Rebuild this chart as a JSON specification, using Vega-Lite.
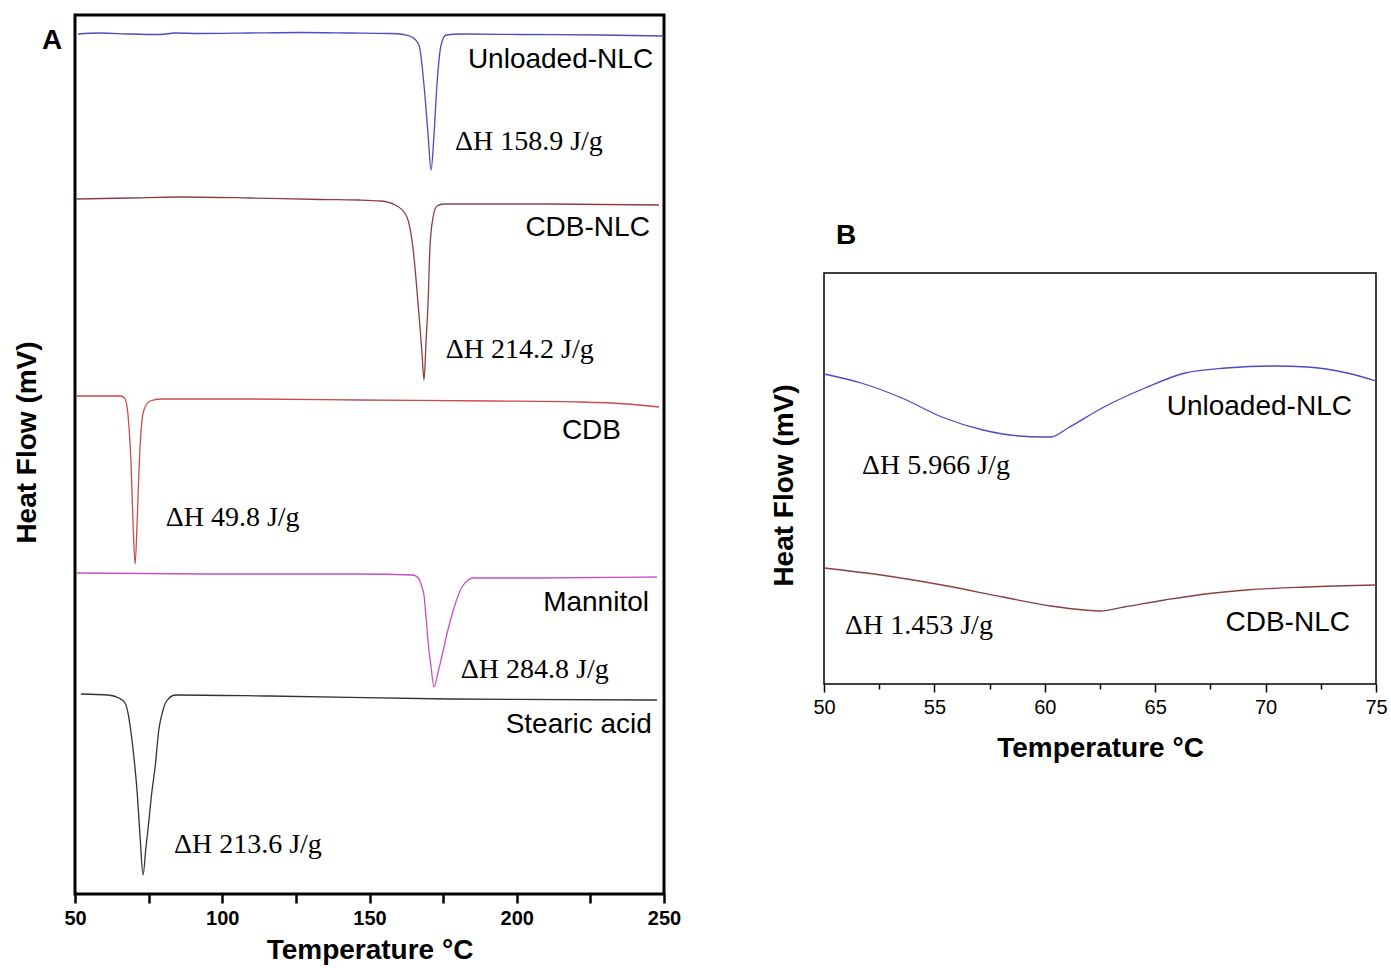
{
  "$schema": "https://vega.github.io/schema/vega-lite/v6.json",
  "background": "white",
  "padding": {"left": 11, "top": 13, "right": 0, "bottom": 0},
  "config": {"font": "Liberation Sans", "view": {"stroke": "black"}},
  "datasets": {
    "curvesA": [
      {"series": "Unloaded-NLC", "T": 51.0, "HF": 8.60},
      {"series": "Unloaded-NLC", "T": 58.5, "HF": 8.61},
      {"series": "Unloaded-NLC", "T": 68.7, "HF": 8.60},
      {"series": "Unloaded-NLC", "T": 78.9, "HF": 8.595},
      {"series": "Unloaded-NLC", "T": 84.0, "HF": 8.61},
      {"series": "Unloaded-NLC", "T": 92.4, "HF": 8.605},
      {"series": "Unloaded-NLC", "T": 109.4, "HF": 8.61},
      {"series": "Unloaded-NLC", "T": 126.4, "HF": 8.615},
      {"series": "Unloaded-NLC", "T": 143.4, "HF": 8.61},
      {"series": "Unloaded-NLC", "T": 157.0, "HF": 8.605},
      {"series": "Unloaded-NLC", "T": 161.4, "HF": 8.595},
      {"series": "Unloaded-NLC", "T": 164.4, "HF": 8.57},
      {"series": "Unloaded-NLC", "T": 166.8, "HF": 8.49},
      {"series": "Unloaded-NLC", "T": 168.5, "HF": 8.09},
      {"series": "Unloaded-NLC", "T": 169.9, "HF": 7.59},
      {"series": "Unloaded-NLC", "T": 170.9, "HF": 7.24},
      {"series": "Unloaded-NLC", "T": 171.9, "HF": 7.59},
      {"series": "Unloaded-NLC", "T": 172.9, "HF": 8.09},
      {"series": "Unloaded-NLC", "T": 174.3, "HF": 8.49},
      {"series": "Unloaded-NLC", "T": 176.0, "HF": 8.59},
      {"series": "Unloaded-NLC", "T": 180.7, "HF": 8.60},
      {"series": "Unloaded-NLC", "T": 201.1, "HF": 8.595},
      {"series": "Unloaded-NLC", "T": 228.3, "HF": 8.59},
      {"series": "Unloaded-NLC", "T": 249.8, "HF": 8.58},

      {"series": "CDB-NLC", "T": 50.5, "HF": 6.95},
      {"series": "CDB-NLC", "T": 68.7, "HF": 6.96},
      {"series": "CDB-NLC", "T": 85.3, "HF": 6.97},
      {"series": "CDB-NLC", "T": 109.4, "HF": 6.96},
      {"series": "CDB-NLC", "T": 133.2, "HF": 6.945},
      {"series": "CDB-NLC", "T": 146.4, "HF": 6.94},
      {"series": "CDB-NLC", "T": 153.9, "HF": 6.93},
      {"series": "CDB-NLC", "T": 158.7, "HF": 6.89},
      {"series": "CDB-NLC", "T": 162.4, "HF": 6.79},
      {"series": "CDB-NLC", "T": 164.8, "HF": 6.45},
      {"series": "CDB-NLC", "T": 166.8, "HF": 5.79},
      {"series": "CDB-NLC", "T": 167.8, "HF": 5.42},
      {"series": "CDB-NLC", "T": 168.5, "HF": 5.14},
      {"series": "CDB-NLC", "T": 169.2, "HF": 5.52},
      {"series": "CDB-NLC", "T": 169.9, "HF": 5.92},
      {"series": "CDB-NLC", "T": 170.5, "HF": 6.45},
      {"series": "CDB-NLC", "T": 171.6, "HF": 6.77},
      {"series": "CDB-NLC", "T": 172.9, "HF": 6.88},
      {"series": "CDB-NLC", "T": 175.3, "HF": 6.90},
      {"series": "CDB-NLC", "T": 207.2, "HF": 6.90},
      {"series": "CDB-NLC", "T": 248.3, "HF": 6.89},

      {"series": "CDB", "T": 50.5, "HF": 4.98},
      {"series": "CDB", "T": 65.6, "HF": 4.98},
      {"series": "CDB", "T": 67.0, "HF": 4.95},
      {"series": "CDB", "T": 68.0, "HF": 4.79},
      {"series": "CDB", "T": 69.0, "HF": 4.32},
      {"series": "CDB", "T": 69.7, "HF": 3.72},
      {"series": "CDB", "T": 70.4, "HF": 3.30},
      {"series": "CDB", "T": 71.1, "HF": 3.72},
      {"series": "CDB", "T": 71.7, "HF": 4.22},
      {"series": "CDB", "T": 72.4, "HF": 4.62},
      {"series": "CDB", "T": 73.4, "HF": 4.84},
      {"series": "CDB", "T": 75.5, "HF": 4.93},
      {"series": "CDB", "T": 79.2, "HF": 4.95},
      {"series": "CDB", "T": 109.4, "HF": 4.95},
      {"series": "CDB", "T": 146.4, "HF": 4.94},
      {"series": "CDB", "T": 191.9, "HF": 4.93},
      {"series": "CDB", "T": 221.5, "HF": 4.92},
      {"series": "CDB", "T": 237.8, "HF": 4.90},
      {"series": "CDB", "T": 248.3, "HF": 4.87},

      {"series": "Mannitol", "T": 50.5, "HF": 3.21},
      {"series": "Mannitol", "T": 100.6, "HF": 3.20},
      {"series": "Mannitol", "T": 146.4, "HF": 3.20},
      {"series": "Mannitol", "T": 164.8, "HF": 3.19},
      {"series": "Mannitol", "T": 166.8, "HF": 3.15},
      {"series": "Mannitol", "T": 167.8, "HF": 3.07},
      {"series": "Mannitol", "T": 168.5, "HF": 2.99},
      {"series": "Mannitol", "T": 169.2, "HF": 2.77},
      {"series": "Mannitol", "T": 169.9, "HF": 2.52},
      {"series": "Mannitol", "T": 170.9, "HF": 2.27},
      {"series": "Mannitol", "T": 171.9, "HF": 2.07},
      {"series": "Mannitol", "T": 173.3, "HF": 2.22},
      {"series": "Mannitol", "T": 174.6, "HF": 2.38},
      {"series": "Mannitol", "T": 176.7, "HF": 2.65},
      {"series": "Mannitol", "T": 179.0, "HF": 2.89},
      {"series": "Mannitol", "T": 181.4, "HF": 3.07},
      {"series": "Mannitol", "T": 183.1, "HF": 3.13},
      {"series": "Mannitol", "T": 185.1, "HF": 3.16},
      {"series": "Mannitol", "T": 207.2, "HF": 3.16},
      {"series": "Mannitol", "T": 247.6, "HF": 3.17},

      {"series": "Stearic acid", "T": 52.0, "HF": 2.00},
      {"series": "Stearic acid", "T": 61.2, "HF": 1.99},
      {"series": "Stearic acid", "T": 64.9, "HF": 1.96},
      {"series": "Stearic acid", "T": 67.0, "HF": 1.91},
      {"series": "Stearic acid", "T": 68.0, "HF": 1.81},
      {"series": "Stearic acid", "T": 69.0, "HF": 1.62},
      {"series": "Stearic acid", "T": 70.0, "HF": 1.37},
      {"series": "Stearic acid", "T": 71.1, "HF": 1.02},
      {"series": "Stearic acid", "T": 72.1, "HF": 0.57},
      {"series": "Stearic acid", "T": 73.1, "HF": 0.19},
      {"series": "Stearic acid", "T": 74.1, "HF": 0.47},
      {"series": "Stearic acid", "T": 74.8, "HF": 0.65},
      {"series": "Stearic acid", "T": 76.1, "HF": 1.02},
      {"series": "Stearic acid", "T": 77.2, "HF": 1.27},
      {"series": "Stearic acid", "T": 78.5, "HF": 1.65},
      {"series": "Stearic acid", "T": 79.9, "HF": 1.84},
      {"series": "Stearic acid", "T": 80.9, "HF": 1.92},
      {"series": "Stearic acid", "T": 84.0, "HF": 1.99},
      {"series": "Stearic acid", "T": 115.9, "HF": 1.98},
      {"series": "Stearic acid", "T": 176.7, "HF": 1.95},
      {"series": "Stearic acid", "T": 247.6, "HF": 1.94}
    ],
    "namesA": [
      {"label": "Unloaded-NLC", "T": 246.3, "HF": 8.34},
      {"label": "CDB-NLC", "T": 245.2, "HF": 6.66},
      {"label": "CDB", "T": 235.4, "HF": 4.63},
      {"label": "Mannitol", "T": 244.9, "HF": 2.91},
      {"label": "Stearic acid", "T": 245.9, "HF": 1.69}
    ],
    "enthalpyA": [
      {"label": "ΔH 158.9 J/g", "T": 179.0, "HF": 7.52},
      {"label": "ΔH 214.2 J/g", "T": 175.9, "HF": 5.44},
      {"label": "ΔH 49.8 J/g", "T": 80.8, "HF": 3.76},
      {"label": "ΔH 284.8 J/g", "T": 181.0, "HF": 2.24},
      {"label": "ΔH 213.6 J/g", "T": 83.6, "HF": 0.49}
    ],
    "curvesB": [
      {"series": "Unloaded-NLC", "T": 50.0, "HF": 3.10},
      {"series": "Unloaded-NLC", "T": 51.68, "HF": 3.01},
      {"series": "Unloaded-NLC", "T": 53.53, "HF": 2.86},
      {"series": "Unloaded-NLC", "T": 55.34, "HF": 2.67},
      {"series": "Unloaded-NLC", "T": 57.20, "HF": 2.54},
      {"series": "Unloaded-NLC", "T": 58.83, "HF": 2.48},
      {"series": "Unloaded-NLC", "T": 59.92, "HF": 2.47},
      {"series": "Unloaded-NLC", "T": 60.28, "HF": 2.47},
      {"series": "Unloaded-NLC", "T": 61.05, "HF": 2.56},
      {"series": "Unloaded-NLC", "T": 62.68, "HF": 2.77},
      {"series": "Unloaded-NLC", "T": 64.54, "HF": 2.96},
      {"series": "Unloaded-NLC", "T": 66.35, "HF": 3.11},
      {"series": "Unloaded-NLC", "T": 68.21, "HF": 3.16},
      {"series": "Unloaded-NLC", "T": 70.38, "HF": 3.18},
      {"series": "Unloaded-NLC", "T": 71.88, "HF": 3.17},
      {"series": "Unloaded-NLC", "T": 73.69, "HF": 3.11},
      {"series": "Unloaded-NLC", "T": 75.0, "HF": 3.03},
      {"series": "CDB-NLC", "T": 50.0, "HF": 1.16},
      {"series": "CDB-NLC", "T": 52.58, "HF": 1.09},
      {"series": "CDB-NLC", "T": 55.34, "HF": 0.99},
      {"series": "CDB-NLC", "T": 58.11, "HF": 0.87},
      {"series": "CDB-NLC", "T": 60.28, "HF": 0.78},
      {"series": "CDB-NLC", "T": 61.78, "HF": 0.74},
      {"series": "CDB-NLC", "T": 62.50, "HF": 0.73},
      {"series": "CDB-NLC", "T": 63.59, "HF": 0.77},
      {"series": "CDB-NLC", "T": 65.44, "HF": 0.84},
      {"series": "CDB-NLC", "T": 67.26, "HF": 0.90},
      {"series": "CDB-NLC", "T": 69.11, "HF": 0.94},
      {"series": "CDB-NLC", "T": 71.88, "HF": 0.97},
      {"series": "CDB-NLC", "T": 75.0, "HF": 0.99}
    ],
    "namesB": [
      {"label": "Unloaded-NLC", "T": 73.91, "HF": 2.77},
      {"label": "CDB-NLC", "T": 73.82, "HF": 0.61}
    ],
    "enthalpyB": [
      {"label": "ΔH 5.966 J/g", "T": 51.72, "HF": 2.18},
      {"label": "ΔH 1.453 J/g", "T": 50.95, "HF": 0.58}
    ]
  },
  "resolve": {"scale": {"x": "independent", "y": "independent", "color": "independent"}},
  "spacing": 86,
  "hconcat": [
    {
      "width": 589,
      "height": 879,
      "view": {"stroke": "black", "strokeWidth": 3},
      "title": {"text": "A", "anchor": "start", "frame": "group", "orient": "top", "offset": -40, "dx": -33, "fontSize": 28, "fontWeight": "bold", "font": "Liberation Sans", "color": "black"},
      "layer": [
        {
          "data": {"name": "curvesA"},
          "mark": {"type": "line", "strokeWidth": 1.3, "interpolate": "monotone"},
          "encoding": {
            "x": {"field": "T", "type": "quantitative",
              "scale": {"domain": [50, 250], "nice": false, "zero": false},
              "axis": {"title": "Temperature °C", "values": [50, 75, 100, 125, 150, 175, 200, 225, 250],
                "labelExpr": "datum.value % 50 === 0 ? datum.label : ''",
                "labelFlush": false, "labelOverlap": false, "grid": false, "domain": false,
                "labelFont": "Liberation Sans", "labelFontWeight": "bold", "labelFontSize": 20, "labelColor": "black", "labelPadding": 5,
                "tickColor": "black", "tickWidth": 2.5, "tickSize": 9,
                "titleFont": "Liberation Sans", "titleFontSize": 28, "titleFontWeight": "bold", "titleColor": "black", "titlePadding": 8}},
            "y": {"field": "HF", "type": "quantitative",
              "scale": {"domain": [0, 8.79], "nice": false, "zero": false},
              "axis": {"title": "Heat Flow (mV)", "labels": false, "ticks": false, "domain": false, "grid": false, "titleY": 427,
                "titleFont": "Liberation Sans", "titleFontSize": 28, "titleFontWeight": "bold", "titleColor": "black", "titlePadding": 34}},
            "color": {"field": "series", "type": "nominal", "legend": null,
              "scale": {"domain": ["Unloaded-NLC", "CDB-NLC", "CDB", "Mannitol", "Stearic acid"],
                "range": ["#4b4bc3", "#8b4040", "#cc4a4a", "#c64fc6", "#333333"]}}
          }
        },
        {
          "data": {"name": "namesA"},
          "mark": {"type": "text", "align": "right", "baseline": "middle", "font": "Liberation Sans", "fontSize": 28, "color": "black"},
          "encoding": {
            "x": {"field": "T", "type": "quantitative"},
            "y": {"field": "HF", "type": "quantitative"},
            "text": {"field": "label"}
          }
        },
        {
          "data": {"name": "enthalpyA"},
          "mark": {"type": "text", "align": "left", "baseline": "middle", "font": "Liberation Serif", "fontSize": 28, "color": "black"},
          "encoding": {
            "x": {"field": "T", "type": "quantitative"},
            "y": {"field": "HF", "type": "quantitative"},
            "text": {"field": "label"}
          }
        }
      ]
    },
    {
      "spacing": 0,
      "vconcat": [
        {
          "width": 552,
          "height": 206,
          "view": {"stroke": null},
          "data": {"values": [{}]},
          "mark": {"type": "text", "text": ""}
        },
        {
          "width": 552,
          "height": 411,
          "view": {"stroke": "black", "strokeWidth": 1.5},
          "title": {"text": "B", "anchor": "start", "frame": "group", "orient": "top", "offset": 23, "dx": 12, "fontSize": 28, "fontWeight": "bold", "font": "Liberation Sans", "color": "black"},
          "layer": [
            {
              "data": {"name": "curvesB"},
              "mark": {"type": "line", "strokeWidth": 1.3, "interpolate": "monotone"},
              "encoding": {
                "x": {"field": "T", "type": "quantitative",
                  "scale": {"domain": [50, 75], "nice": false, "zero": false},
                  "axis": {"title": "Temperature °C", "values": [50, 52.5, 55, 57.5, 60, 62.5, 65, 67.5, 70, 72.5, 75],
                    "labelExpr": "datum.value % 5 === 0 ? datum.label : ''",
                    "labelFlush": false, "labelOverlap": false, "grid": false, "domain": false,
                    "labelFont": "Liberation Sans", "labelFontSize": 20, "labelColor": "black", "labelPadding": 5,
                    "tickColor": "black", "tickWidth": 1.5,
                    "tickSize": {"condition": {"test": "datum.value % 5 === 0", "value": 8}, "value": 5},
                    "titleFont": "Liberation Sans", "titleFontSize": 28, "titleFontWeight": "bold", "titleColor": "black", "titlePadding": 17}},
                "y": {"field": "HF", "type": "quantitative",
                  "scale": {"domain": [0, 4.11], "nice": false, "zero": false},
                  "axis": {"title": "Heat Flow (mV)", "labels": false, "ticks": false, "domain": false, "grid": false, "titleY": 212,
                    "titleFont": "Liberation Sans", "titleFontSize": 28, "titleFontWeight": "bold", "titleColor": "black", "titlePadding": 26}},
                "color": {"field": "series", "type": "nominal", "legend": null,
                  "scale": {"domain": ["Unloaded-NLC", "CDB-NLC"], "range": ["#4b4bc3", "#8b4040"]}}
              }
            },
            {
              "data": {"name": "namesB"},
              "mark": {"type": "text", "align": "right", "baseline": "middle", "font": "Liberation Sans", "fontSize": 28, "color": "black"},
              "encoding": {
                "x": {"field": "T", "type": "quantitative"},
                "y": {"field": "HF", "type": "quantitative"},
                "text": {"field": "label"}
              }
            },
            {
              "data": {"name": "enthalpyB"},
              "mark": {"type": "text", "align": "left", "baseline": "middle", "font": "Liberation Serif", "fontSize": 28, "color": "black"},
              "encoding": {
                "x": {"field": "T", "type": "quantitative"},
                "y": {"field": "HF", "type": "quantitative"},
                "text": {"field": "label"}
              }
            }
          ]
        }
      ]
    }
  ]
}
